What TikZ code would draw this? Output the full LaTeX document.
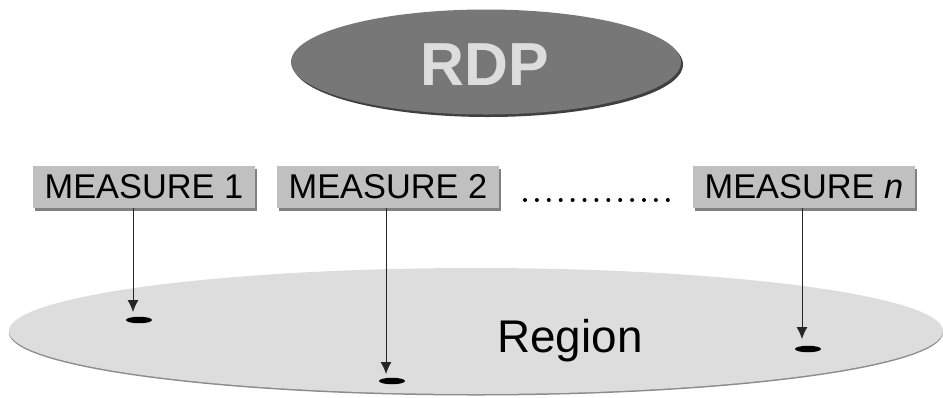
\documentclass[tikz,border=0pt]{standalone}
\usepackage{fontspec}
\setmainfont{Liberation Sans}
\usetikzlibrary{shapes.geometric,shadows,arrows.meta}
\definecolor{rdpgray}{HTML}{777777}
\definecolor{boxgray}{HTML}{C0C0C0}
\definecolor{regiongray}{HTML}{DDDDDD}
\tikzset{measure/.style={rectangle,fill=boxgray,minimum width=222bp,minimum height=42bp,
        inner sep=0pt,font=\fontsize{34.5}{40}\selectfont,
        drop shadow={shadow xshift=2bp,shadow yshift=-2.5bp,fill=black!50,opacity=1}},
    blob/.style={ellipse,fill=black,minimum width=26bp,minimum height=6.5bp,inner sep=0pt},
    probe/.style={draw=black!85,line width=0.9pt,-{Latex[length=12bp,width=11bp]}}
}

\begin{document}
\begin{tikzpicture}[x=1bp,y=-1bp]
    \useasboundingbox (0,0) rectangle (943,397);

    % Region
    \node[ellipse,fill=regiongray,minimum width=934bp,minimum height=126bp,inner sep=0pt,
        drop shadow={shadow xshift=0bp,shadow yshift=-1.5bp,fill=black!45,opacity=1}]
        (region) at (476,331) {};
    \node[font=\fontsize{46}{54}\selectfont,anchor=base] (regionlabel) at (570,352) {Region};

    % RDP
    \node[ellipse,fill=rdpgray,minimum width=390bp,minimum height=105bp,inner sep=0pt,
        drop shadow={shadow xshift=2bp,shadow yshift=-2.5bp,fill=black!75,opacity=1}]
        (rdp) at (486,62) {};
    \node[font=\fontsize{61}{72}\selectfont\bfseries,text=regiongray,anchor=base] (rdplabel) at (485,85) {RDP};

    % Measures
    \node[measure] (m1) at (144,187) {MEASURE 1};
    \node[measure] (m2) at (388,187) {MEASURE 2};
    \node[measure] (mn) at (804,187) {MEASURE \textit{n}};
    \foreach \i in {0,...,12}
        \fill (525+\i*11.9,200) circle (2bp);

    % Spots in the region
    \node[blob] (s1) at (139,320) {};
    \node[blob] (s2) at (392,381) {};
    \node[blob] (sn) at (808,349) {};
    \coordinate (t1) at (133,312);
    \coordinate (t2) at (386,374);
    \coordinate (tn) at (802,339);
    \draw[probe] (m1.south -| t1) -- (t1);
    \draw[probe] (m2.south -| t2) -- (t2);
    \draw[probe] (mn.south -| tn) -- (tn);
\end{tikzpicture}
\end{document}
